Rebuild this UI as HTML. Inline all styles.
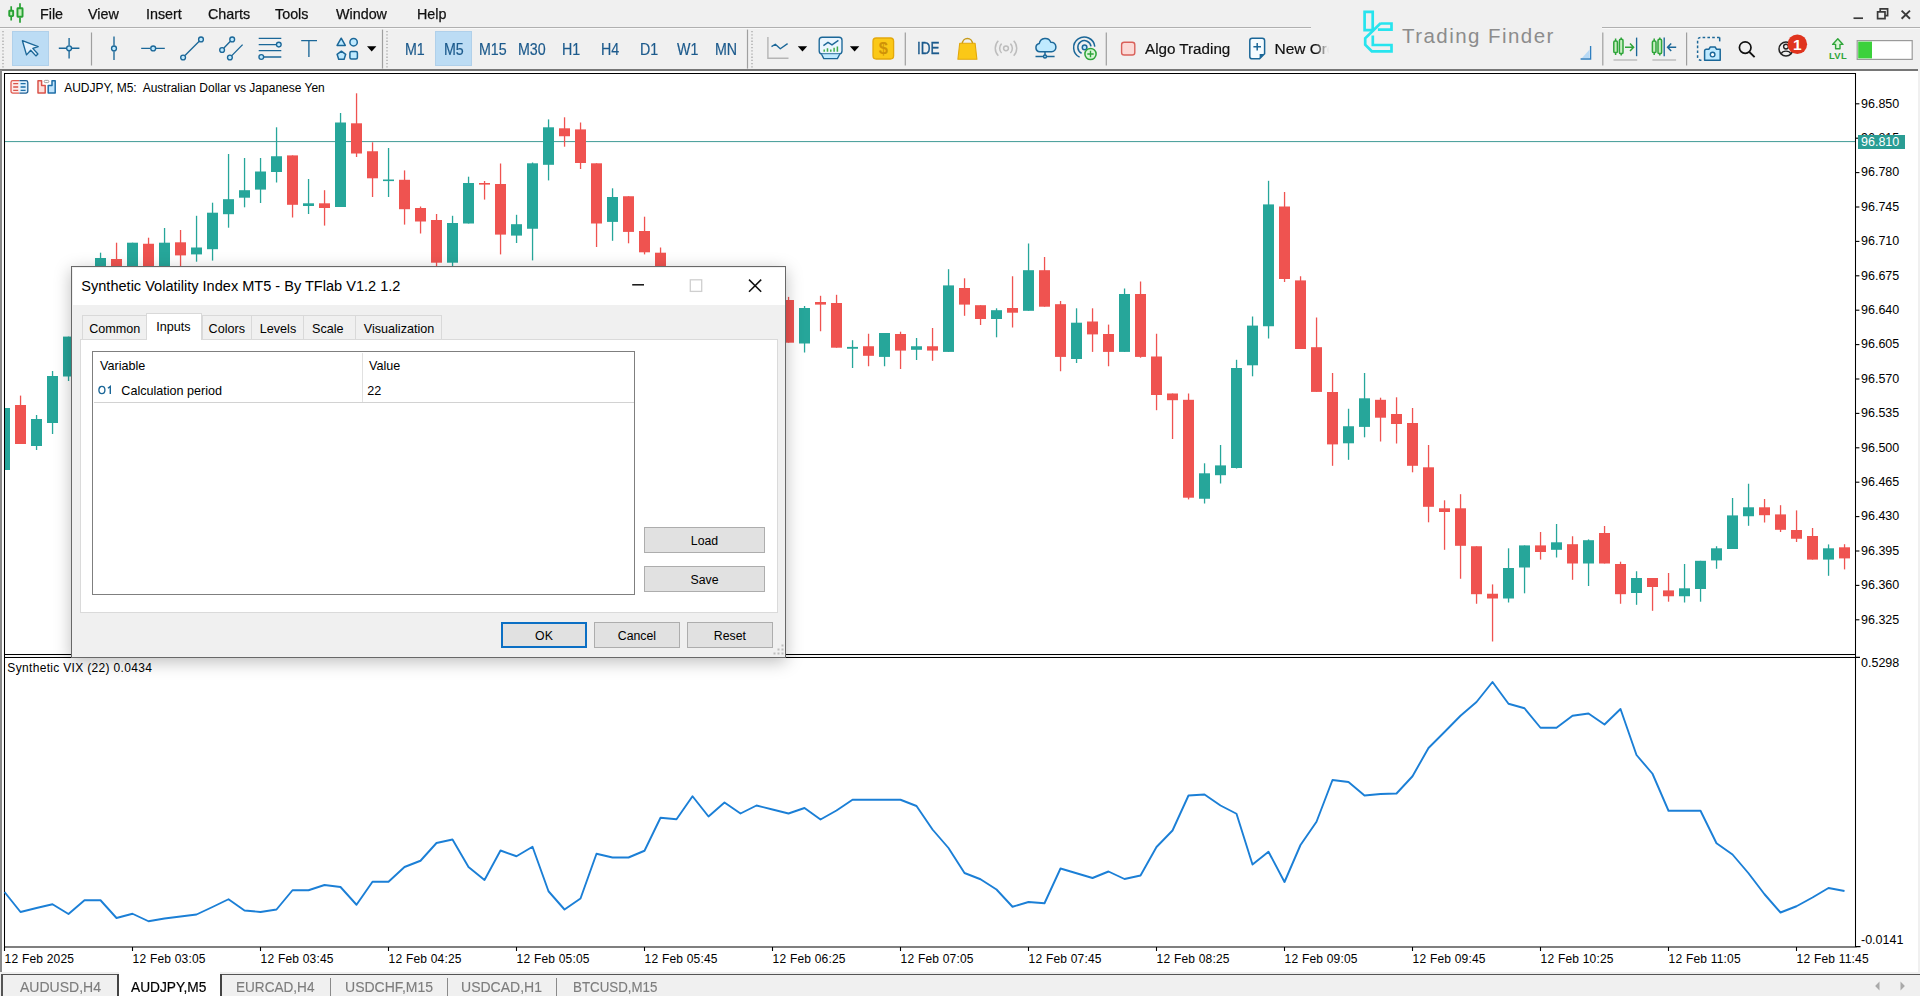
<!DOCTYPE html>
<html><head><meta charset="utf-8"><title>MT5</title>
<style>
*{box-sizing:border-box;margin:0;padding:0}
html,body{width:1920px;height:996px;overflow:hidden;background:#f0f0f0;font-family:"Liberation Sans",sans-serif;color:#000}
.abs{position:absolute}
.t{position:absolute;white-space:pre;line-height:1}
.menu{font-size:15px;top:5.9px;color:#111;-webkit-text-stroke:.25px #111;transform:scaleX(.955);transform-origin:0 0}
.tf{font-size:16px;color:#1c5a8c;-webkit-text-stroke:.2px #1c5a8c;top:42px;transform:scaleX(.89);transform-origin:0 0}
.ax{font-size:12.5px;left:1861px;color:#000}
.tm{font-size:12px;letter-spacing:.2px;top:952.8px;color:#000}
.tab{font-size:15px;top:979px;color:#7d7d7d;-webkit-text-stroke:.15px #7d7d7d;transform:scaleX(.935);transform-origin:0 0}
.dt{font-size:12.6px;color:#000}
.btn{position:absolute;background:#e1e1e1;border:1px solid #adadad;font-size:12.3px;text-align:center;line-height:26.4px;height:26px;overflow:hidden}
</style></head><body>

<div class="abs" style="left:0;top:0;width:1920px;height:27px;background:#f0f0f0"></div>
<div class="t menu" style="left:39.5px">File</div>
<div class="t menu" style="left:88px">View</div>
<div class="t menu" style="left:146px">Insert</div>
<div class="t menu" style="left:208px">Charts</div>
<div class="t menu" style="left:275px">Tools</div>
<div class="t menu" style="left:335.5px">Window</div>
<div class="t menu" style="left:417px">Help</div>
<div class="abs" style="left:0;top:26.5px;width:1311px;height:1.3px;background:#b0b0b0"></div>
<div class="abs" style="left:1602px;top:26.5px;width:318px;height:1.3px;background:#b0b0b0"></div>
<div class="abs" style="left:0;top:27.8px;width:1311px;height:1px;background:#f9f9f9"></div>
<div class="abs" style="left:1602px;top:27.8px;width:318px;height:1px;background:#f9f9f9"></div>
<div class="abs" style="left:12px;top:31px;width:37px;height:34.5px;background:#bcdcf4;border:1px solid #b0d0ea"></div>
<div class="abs" style="left:435px;top:31px;width:37px;height:34.5px;background:#bcdcf4;border:1px solid #b0d0ea"></div>
<div class="t tf" style="left:404.5px">M1</div>
<div class="t tf" style="left:443.5px">M5</div>
<div class="t tf" style="left:478.5px">M15</div>
<div class="t tf" style="left:517.5px">M30</div>
<div class="t tf" style="left:562px">H1</div>
<div class="t tf" style="left:601px">H4</div>
<div class="t tf" style="left:640px">D1</div>
<div class="t tf" style="left:676.5px">W1</div>
<div class="t tf" style="left:715px">MN</div>
<div class="t" style="left:916.8px;top:40.8px;font-size:16px;color:#1c5a8c;-webkit-text-stroke:.35px #1c5a8c;transform:scaleX(.85);transform-origin:0 0">IDE</div>
<div class="t" style="left:1145px;top:40.9px;font-size:15.5px;color:#111;transform:scaleX(.98);transform-origin:0 0;-webkit-text-stroke:.2px #111">Algo Trading</div>
<div class="t" style="left:1274.5px;top:40.9px;font-size:15.5px;color:#111;-webkit-text-stroke:.2px #111;width:54px;overflow:hidden;-webkit-mask-image:linear-gradient(90deg,#000 75%,transparent 100%)">New Order</div>
<div class="t" style="left:1402px;top:26.4px;font-size:20.5px;letter-spacing:1.45px;color:#8c8c8c">Trading Finder</div>
<svg class="abs" style="left:0;top:0" width="1920" height="72" viewBox="0 0 1920 72" fill="none"><g stroke="#27a233" stroke-width="1.9" fill="#c4f0bd"><path d="M11.2 6.2v4.5M11.2 16.8v3.6M20 3.3v5M20 17.4v5.4" stroke-width="1.7"/><rect x="9.25" y="10.8" width="3.9" height="5.3" rx=".5"/><rect x="17.45" y="8.3" width="5.1" height="8.4" rx=".5"/></g><path d="M3 31v37" stroke="#a8a8a8" stroke-width="1.35" stroke-dasharray="1.3 1.9"/><path d="M387 31v37" stroke="#a8a8a8" stroke-width="1.35" stroke-dasharray="1.3 1.9"/><path d="M752 31v37" stroke="#a8a8a8" stroke-width="1.35" stroke-dasharray="1.3 1.9"/><path d="M91.5 32.5v33" stroke="#9f9f9f" stroke-width="1.2"/><path d="M905.3 32.5v33" stroke="#9f9f9f" stroke-width="1.2"/><path d="M1106.3 32.5v33" stroke="#9f9f9f" stroke-width="1.2"/><path d="M1602.8 32.5v33" stroke="#9f9f9f" stroke-width="1.2"/><path d="M1686.6 32.5v33" stroke="#9f9f9f" stroke-width="1.2"/><path d="M382.5 29.6v39" stroke="#9f9f9f" stroke-width="1.2"/><path d="M747.5 29.6v39" stroke="#9f9f9f" stroke-width="1.2"/><path d="M22.4 40.7l4.1 14.2 4.2-4.6 5.2 5.6 2-1.9-5.1-5.6 5.4-1.8z" stroke="#1b6798" stroke-width="1.35" fill="#e4f2fd" stroke-linejoin="round"/><g stroke="#1b6798" stroke-width="1.35"><path d="M58.8 48.2h7.6M71.8 48.2h7.6M69.1 38v7.6M69.1 51v7.6"/><circle cx="69.1" cy="48.3" r="2.45" fill="#bfeaff"/></g><g stroke="#1b6798" stroke-width="1.35"><path d="M114 36.5v9M114 51.2v8.8"/><circle cx="114" cy="48.4" r="2.45" fill="#bfeaff"/></g><g stroke="#1b6798" stroke-width="1.35"><path d="M141.2 48.4h9M156 48.4h8.8"/><circle cx="153.2" cy="48.4" r="2.45" fill="#bfeaff"/></g><g stroke="#1b6798" stroke-width="1.35"><path d="M185 55.6L199.2 41.3"/><circle cx="183.1" cy="57.5" r="2.4" fill="#bfeaff"/><circle cx="201" cy="39.4" r="2.4" fill="#bfeaff"/></g><g stroke="#1b6798" stroke-width="1.35"><path d="M223.9 48L230.4 41.3M231.8 55.6L242.6 44.6"/><circle cx="222.1" cy="50" r="2.4" fill="#bfeaff"/><circle cx="232.2" cy="39.4" r="2.4" fill="#bfeaff"/><circle cx="229.9" cy="57.5" r="2.4" fill="#bfeaff"/></g><g stroke="#1b6798" stroke-width="1.35"><path d="M258.7 38.4h22.6M258.7 44.6h17.3M258.7 50.6h22.6M264 57h17.3"/><circle cx="278.8" cy="44.6" r="2.35" fill="#bfeaff"/><circle cx="261.3" cy="57" r="2.35" fill="#bfeaff"/></g><path d="M301.2 40.6h15.8M308.9 40.6v16.4" stroke="#1b6798" stroke-width="1.35"/><g stroke="#1b6798" stroke-width="1.5" fill="#bfeaff" stroke-linejoin="round"><path d="M341.2 38.2l4.1 7.2h-8.2z"/><circle cx="353.6" cy="42.2" r="3.7"/><path d="M341.4 51.2l4.3 3.1-1.6 5h-5.4l-1.6-5z"/><rect x="349.9" y="51.4" width="7.5" height="7.5" rx="1.5"/></g><path d="M367 46.2h9.4l-4.7 5.2z" fill="#000"/><path d="M797.8 46.2h9.4l-4.7 5.2z" fill="#000"/><path d="M849.9 46.2h9.4l-4.7 5.2z" fill="#000"/><path d="M767.9 37v21.3h20.6" stroke="#b5b5b5" stroke-width="1.4"/><path d="M771.5 46.6l3.8-2.4 5 4.6 7.3-5.2" stroke="#1b6798" stroke-width="1.35" stroke-linejoin="round"/><g stroke="#1b6798" stroke-width="1.35"><rect x="819.2" y="37.2" width="22.8" height="16.8" rx="3" fill="#eaf5fe"/><path d="M821.5 54.2l2.3 4.4h13.6l2.3-4.4" fill="#bfeaff" stroke-linejoin="round"/><path d="M823.4 45.6l4.6-3.2 4 2.4 6.4-4.4" stroke-width="1.4"/></g><path d="M824.2 49.5v2.2M827.5 48.3v3.4M830.8 49.5v2.2M834.1 47.8v3.9M837.4 46.6v5.1" stroke="#3fae49" stroke-width="1.5"/><rect x="873" y="38" width="20.6" height="21" rx="3.2" fill="#fbc817" stroke="#e3a80b" stroke-width="1.3"/><text x="883.3" y="54.4" font-family="Liberation Sans" font-size="16.5" font-weight="bold" fill="#cf9208" text-anchor="middle">$</text><path d="M962.2 44.5c0-8 10.4-8 10.4 0" stroke="#c79b1a" stroke-width="1.5"/><path d="M959.7 43.2h15.4l1.8 16h-19z" fill="#fbc817" stroke="#e3a80b" stroke-width="1.1" stroke-linejoin="round"/><g stroke="#bdbdbd" stroke-width="1.5"><circle cx="1006" cy="48.3" r="2.4"/><path d="M1001.6 43.6a6.6 6.6 0 0 0 0 9.4M1010.4 43.6a6.6 6.6 0 0 1 0 9.4M998.3 40.8a10.8 10.8 0 0 0 0 15M1013.7 40.8a10.8 10.8 0 0 1 0 15"/></g><g stroke="#1b6798" stroke-width="1.5"><path d="M1039.8 51.8a4.2 4.2 0 0 1-.5-8.3 6 6 0 0 1 11.5-1.3 4.8 4.8 0 0 1 .6 9.6z" fill="#bfeaff" stroke-linejoin="round"/><path d="M1045 52v3.2M1035.5 56.6h7.6M1047 56.6h7.6"/><circle cx="1045" cy="56.6" r="1.5" fill="#bfeaff"/></g><g stroke="#1b6798" stroke-width="1.5"><path d="M1079.6 57.2a10.6 10.6 0 1 1 15.2-10.6"/><path d="M1081.6 53.2a6.6 6.6 0 1 1 9.4-6.8"/><circle cx="1084.6" cy="47.4" r="2.3" fill="#bfeaff"/></g><circle cx="1090.5" cy="54" r="5.6" fill="#d9f5d6" stroke="#2fa53a" stroke-width="1.5"/><path d="M1087.3 54h6.4M1090.5 50.8v6.4" stroke="#2fa53a" stroke-width="1.35"/><rect x="1121.6" y="42.2" width="13.2" height="12.8" rx="2.6" fill="#fbdad7" stroke="#d9605a" stroke-width="1.4"/><path d="M1252.2 38.2h10a2.4 2.4 0 0 1 2.4 2.4v13.2l-5 5h-7.4a2.4 2.4 0 0 1-2.4-2.4v-15.8a2.4 2.4 0 0 1 2.4-2.4z" stroke="#1b6798" stroke-width="1.5" fill="#f5fbff"/><path d="M1264.4 54l-4.8 4.8v-4.8z" fill="#1b6798"/><path d="M1253.4 46.7h7.6M1257.2 42.9v7.6" stroke="#1b6798" stroke-width="1.5"/><g stroke="#27e4ee" stroke-width="2.7" stroke-linejoin="miter"><path d="M1364.6 11.9h8.1v18.2h-8.1z"/><path d="M1380.3 23.5h11.2v6.2h-13.6"/><path d="M1380.6 23.3l-15.4 15v6.5l6.6 6.5h19.7v-6.3h-18.7v-9.6"/></g><path d="M1590.6 46v13h-10" stroke="#2f7fc0" stroke-width="1.35"/><path d="M1589.6 49.5v8.5h-7.6z" fill="#b7d9f5"/><g stroke="#2fa53a" stroke-width="1.5" fill="#c9efc2"><path d="M1615.6 38.6v2.4M1615.6 52.6v2.4M1621.2 37.6v1.6M1621.2 53.6v2"/><rect x="1613.8" y="41" width="3.6" height="11.6" rx="1.2"/><rect x="1619.4" y="39.2" width="3.6" height="14.4" rx="1.2"/></g><path d="M1625 47.3h8.4M1630 43.6l3.6 3.7-3.6 3.7" stroke="#2fa53a" stroke-width="1.5"/><path d="M1636.6 37.6v18.6" stroke="#1b6798" stroke-width="1.35"/><path d="M1613.5 60h23.7" stroke="#b5b5b5" stroke-width="1.3"/><g stroke="#2fa53a" stroke-width="1.5" fill="#c9efc2"><path d="M1654.1999999999998 38.6v2.4M1654.1999999999998 52.6v2.4M1659.8 37.6v1.6M1659.8 53.6v2"/><rect x="1652.3999999999999" y="41" width="3.6" height="11.6" rx="1.2"/><rect x="1658.0" y="39.2" width="3.6" height="14.4" rx="1.2"/></g><path d="M1664.2 37.6v18.6" stroke="#1b6798" stroke-width="1.35"/><path d="M1667.6 47.3h8.6M1671.2 43.6l-3.6 3.7 3.6 3.7" stroke="#1b6798" stroke-width="1.5"/><path d="M1652.4 60h23.7" stroke="#b5b5b5" stroke-width="1.3"/><path d="M1719.6 37.4h-19a3 3 0 0 0-3 3v16.8a3 3 0 0 0 3 3h2" stroke="#1b6798" stroke-width="1.5" stroke-dasharray="2.6 2.2"/><path d="M1719.7 37.4v4" stroke="#1b6798" stroke-width="1.5"/><path d="M1704.6 60.3v-9.4a1.6 1.6 0 0 1 1.6-1.6h2.6l1.5-2.3h4.8l1.5 2.3h3.6v11z" fill="#bfeaff" stroke="#1b6798" stroke-width="1.5" stroke-linejoin="round"/><circle cx="1712.6" cy="54.6" r="2.3" stroke="#1b6798" stroke-width="1.4" fill="#fff"/><circle cx="1745.2" cy="47.6" r="5.8" stroke="#111" stroke-width="1.7"/><path d="M1749.4 52l5.2 5.2" stroke="#111" stroke-width="1.8"/><circle cx="1786" cy="49" r="7" stroke="#222" stroke-width="1.5"/><circle cx="1786" cy="46.6" r="2.4" stroke="#222" stroke-width="1.4"/><path d="M1781.2 53.8c1.4-3.6 8.2-3.6 9.6 0" stroke="#222" stroke-width="1.4"/><circle cx="1797.3" cy="44.3" r="9.8" fill="#e0341e"/><text x="1797.3" y="50" font-family="Liberation Sans" font-size="15.5" font-weight="bold" fill="#fff" text-anchor="middle">1</text><path d="M1837.8 38.8l-5.2 5.6h3v4.4h4.4v-4.4h3z" stroke="#2fa53a" stroke-width="1.4" fill="#d9f5d6" stroke-linejoin="round"/><text x="1838" y="59.2" font-family="Liberation Sans" font-size="9.4" font-weight="bold" fill="#2fa53a" text-anchor="middle" letter-spacing=".3">LVL</text><rect x="1857.2" y="40.6" width="55" height="18.8" fill="#fff" stroke="#9a9a9a" stroke-width="1.2"/><rect x="1858.2" y="41.6" width="13.8" height="16.8" fill="#3bd13b"/><g stroke="#3a3a3a" stroke-width="1.7"><path d="M1853.5 18.2h9.5"/><path d="M1877.6 11.8h7.4v6.8h-7.4z"/><path d="M1880.2 11.6v-2.8h7.4v6.8h-2.6"/><path d="M1901.6 10.6l8.4 8.2M1910 10.6l-8.4 8.2" stroke-width="1.9"/></g></svg>
<div class="abs" style="left:0;top:69px;width:1918px;height:1.8px;background:#767676"></div>
<div class="abs" style="left:2px;top:70.8px;width:1916.3px;height:901.4px;background:#fff"></div>
<div class="abs" style="left:0;top:70px;width:1.7px;height:904px;background:#8a8a8a"></div>
<svg class="abs" style="left:0;top:70px" width="1920" height="904" viewBox="0 70 1920 904" shape-rendering="auto"><path d="M5 141.6H1856" stroke="#3f9a95" stroke-width="1"/><rect x="5" y="408" width="5" height="62" fill="#26a69a"/><rect x="19.9" y="395.6" width="1.3" height="48.4" fill="#ef5350"/><rect x="15" y="405" width="11" height="39" fill="#ef5350"/><rect x="35.9" y="415" width="1.3" height="35" fill="#26a69a"/><rect x="31" y="419" width="11" height="27" fill="#26a69a"/><rect x="51.9" y="371" width="1.3" height="63" fill="#26a69a"/><rect x="47" y="376" width="11" height="47" fill="#26a69a"/><rect x="67.9" y="336.6" width="1.3" height="44.4" fill="#26a69a"/><rect x="63" y="336.6" width="11" height="39.9" fill="#26a69a"/><rect x="99.9" y="252.7" width="1.3" height="32.3" fill="#26a69a"/><rect x="95" y="258" width="11" height="27" fill="#26a69a"/><rect x="115.9" y="242.7" width="1.3" height="42.3" fill="#ef5350"/><rect x="111" y="259" width="11" height="26" fill="#ef5350"/><rect x="131.9" y="242.7" width="1.3" height="42.3" fill="#26a69a"/><rect x="127" y="242.7" width="11" height="42.3" fill="#26a69a"/><rect x="147.9" y="237.7" width="1.3" height="47.3" fill="#ef5350"/><rect x="143" y="243.75" width="11" height="41.25" fill="#ef5350"/><rect x="163.9" y="228" width="1.3" height="57" fill="#26a69a"/><rect x="159" y="242.7" width="11" height="42.3" fill="#26a69a"/><rect x="179.9" y="230" width="1.3" height="55" fill="#ef5350"/><rect x="175" y="242.3" width="11" height="13.1" fill="#ef5350"/><rect x="195.9" y="215.8" width="1.3" height="45.9" fill="#26a69a"/><rect x="191" y="247.5" width="11" height="6.9" fill="#26a69a"/><rect x="211.9" y="202.7" width="1.3" height="57.9" fill="#26a69a"/><rect x="207" y="212.7" width="11" height="36.5" fill="#26a69a"/><rect x="227.9" y="154" width="1.3" height="73.7" fill="#26a69a"/><rect x="223" y="199.2" width="11" height="15.0" fill="#26a69a"/><rect x="243.9" y="158" width="1.3" height="49.3" fill="#26a69a"/><rect x="239" y="190.2" width="11" height="7.5" fill="#26a69a"/><rect x="259.9" y="158" width="1.3" height="45" fill="#26a69a"/><rect x="255" y="171.5" width="11" height="18.1" fill="#26a69a"/><rect x="275.9" y="127.3" width="1.3" height="55.2" fill="#26a69a"/><rect x="271" y="156.25" width="11" height="15.75" fill="#26a69a"/><rect x="291.9" y="155.4" width="1.3" height="62.1" fill="#ef5350"/><rect x="287" y="155.4" width="11" height="49.4" fill="#ef5350"/><rect x="307.9" y="179" width="1.3" height="35" fill="#26a69a"/><rect x="303" y="203.3" width="11" height="2.7" fill="#26a69a"/><rect x="323.9" y="190.2" width="1.3" height="35.4" fill="#ef5350"/><rect x="319" y="203.3" width="11" height="4.7" fill="#ef5350"/><rect x="339.9" y="113" width="1.3" height="94" fill="#26a69a"/><rect x="335" y="122.5" width="11" height="84.5" fill="#26a69a"/><rect x="355.9" y="93.3" width="1.3" height="63.7" fill="#ef5350"/><rect x="351" y="123.3" width="11" height="30.2" fill="#ef5350"/><rect x="371.9" y="142.3" width="1.3" height="54.7" fill="#ef5350"/><rect x="367" y="151.25" width="11" height="27.05" fill="#ef5350"/><rect x="387.9" y="148" width="1.3" height="49" fill="#26a69a"/><rect x="383" y="179.5" width="11" height="1.6" fill="#26a69a"/><rect x="403.9" y="170.4" width="1.3" height="54.2" fill="#ef5350"/><rect x="399" y="179.8" width="11" height="29.4" fill="#ef5350"/><rect x="419.9" y="206.5" width="1.3" height="27.0" fill="#ef5350"/><rect x="415" y="208" width="11" height="13.5" fill="#ef5350"/><rect x="435.9" y="214" width="1.3" height="71" fill="#ef5350"/><rect x="431" y="220" width="11" height="42.7" fill="#ef5350"/><rect x="451.9" y="215.8" width="1.3" height="69.2" fill="#26a69a"/><rect x="447" y="223" width="11" height="39.7" fill="#26a69a"/><rect x="467.9" y="176.7" width="1.3" height="46.8" fill="#26a69a"/><rect x="463" y="183" width="11" height="40.5" fill="#26a69a"/><rect x="483.9" y="181" width="1.3" height="18.6" fill="#ef5350"/><rect x="479" y="183" width="11" height="1.6" fill="#ef5350"/><rect x="499.9" y="163.5" width="1.3" height="90.9" fill="#ef5350"/><rect x="495" y="184" width="11" height="50.6" fill="#ef5350"/><rect x="515.9" y="214.8" width="1.3" height="28.2" fill="#26a69a"/><rect x="511" y="224.2" width="11" height="11.4" fill="#26a69a"/><rect x="531.9" y="162.5" width="1.3" height="97.9" fill="#26a69a"/><rect x="527" y="163.3" width="11" height="65.45" fill="#26a69a"/><rect x="547.9" y="119.4" width="1.3" height="61.0" fill="#26a69a"/><rect x="543" y="127.3" width="11" height="37.5" fill="#26a69a"/><rect x="563.9" y="117.3" width="1.3" height="29.4" fill="#ef5350"/><rect x="559" y="128.3" width="11" height="7.95" fill="#ef5350"/><rect x="579.9" y="122.5" width="1.3" height="46.5" fill="#ef5350"/><rect x="575" y="129.4" width="11" height="33.6" fill="#ef5350"/><rect x="595.9" y="163.3" width="1.3" height="83.7" fill="#ef5350"/><rect x="591" y="163.3" width="11" height="60.2" fill="#ef5350"/><rect x="611.9" y="188.3" width="1.3" height="52.5" fill="#26a69a"/><rect x="607" y="197" width="11" height="24.9" fill="#26a69a"/><rect x="627.9" y="196.25" width="1.3" height="47.05" fill="#ef5350"/><rect x="623" y="196.25" width="11" height="35.65" fill="#ef5350"/><rect x="643.9" y="216.7" width="1.3" height="37.7" fill="#ef5350"/><rect x="639" y="231" width="11" height="21.3" fill="#ef5350"/><rect x="659.9" y="247.5" width="1.3" height="37.5" fill="#ef5350"/><rect x="655" y="252.7" width="11" height="32.3" fill="#ef5350"/><rect x="787.9" y="296.9" width="1.3" height="45.8" fill="#ef5350"/><rect x="783" y="300" width="11" height="42.7" fill="#ef5350"/><rect x="803.9" y="306" width="1.3" height="46.5" fill="#26a69a"/><rect x="799" y="308" width="11" height="35.5" fill="#26a69a"/><rect x="819.9" y="295.8" width="1.3" height="35.45" fill="#ef5350"/><rect x="815" y="302" width="11" height="2.6" fill="#ef5350"/><rect x="835.9" y="294.8" width="1.3" height="52.9" fill="#ef5350"/><rect x="831" y="303" width="11" height="44.7" fill="#ef5350"/><rect x="851.9" y="340.2" width="1.3" height="27.8" fill="#26a69a"/><rect x="847" y="346.9" width="11" height="1.85" fill="#26a69a"/><rect x="867.9" y="333.75" width="1.3" height="32.5" fill="#ef5350"/><rect x="863" y="346.25" width="11" height="9.55" fill="#ef5350"/><rect x="883.9" y="333" width="1.3" height="33.25" fill="#26a69a"/><rect x="879" y="333" width="11" height="23.9" fill="#26a69a"/><rect x="899.9" y="331.7" width="1.3" height="37.3" fill="#ef5350"/><rect x="895" y="334" width="11" height="16.6" fill="#ef5350"/><rect x="915.9" y="338" width="1.3" height="22" fill="#26a69a"/><rect x="911" y="346.25" width="11" height="3.55" fill="#26a69a"/><rect x="931.9" y="328" width="1.3" height="32.8" fill="#ef5350"/><rect x="927" y="346.25" width="11" height="4.35" fill="#ef5350"/><rect x="947.9" y="269.2" width="1.3" height="82.7" fill="#26a69a"/><rect x="943" y="285.4" width="11" height="66.5" fill="#26a69a"/><rect x="963.9" y="278.3" width="1.3" height="37.5" fill="#ef5350"/><rect x="959" y="288" width="11" height="16.6" fill="#ef5350"/><rect x="979.9" y="305.2" width="1.3" height="19.8" fill="#ef5350"/><rect x="975" y="305.2" width="11" height="13.8" fill="#ef5350"/><rect x="995.9" y="308.3" width="1.3" height="29.0" fill="#26a69a"/><rect x="991" y="310.2" width="11" height="8.8" fill="#26a69a"/><rect x="1011.9" y="276.25" width="1.3" height="51.25" fill="#ef5350"/><rect x="1007" y="308" width="11" height="4.7" fill="#ef5350"/><rect x="1027.9" y="243.5" width="1.3" height="67.3" fill="#26a69a"/><rect x="1023" y="270.2" width="11" height="40.6" fill="#26a69a"/><rect x="1043.9" y="257" width="1.3" height="49.7" fill="#ef5350"/><rect x="1039" y="270.2" width="11" height="36.5" fill="#ef5350"/><rect x="1059.9" y="301" width="1.3" height="70.25" fill="#ef5350"/><rect x="1055" y="304.2" width="11" height="52.7" fill="#ef5350"/><rect x="1075.9" y="308.3" width="1.3" height="54.7" fill="#26a69a"/><rect x="1071" y="322.7" width="11" height="36.3" fill="#26a69a"/><rect x="1091.9" y="308.3" width="1.3" height="43.6" fill="#ef5350"/><rect x="1087" y="321.5" width="11" height="12.9" fill="#ef5350"/><rect x="1107.9" y="324.6" width="1.3" height="41.65" fill="#ef5350"/><rect x="1103" y="334" width="11" height="17.9" fill="#ef5350"/><rect x="1123.9" y="288.5" width="1.3" height="63.4" fill="#26a69a"/><rect x="1119" y="294" width="11" height="57.9" fill="#26a69a"/><rect x="1139.9" y="281.5" width="1.3" height="76.2" fill="#ef5350"/><rect x="1135" y="294" width="11" height="62.9" fill="#ef5350"/><rect x="1155.9" y="333.75" width="1.3" height="76.45" fill="#ef5350"/><rect x="1151" y="356.5" width="11" height="38.5" fill="#ef5350"/><rect x="1171.9" y="393.5" width="1.3" height="45.5" fill="#ef5350"/><rect x="1167" y="393.5" width="11" height="6.7" fill="#ef5350"/><rect x="1187.9" y="393.5" width="1.3" height="105.9" fill="#ef5350"/><rect x="1183" y="399.8" width="11" height="97.9" fill="#ef5350"/><rect x="1203.9" y="463.3" width="1.3" height="40.2" fill="#26a69a"/><rect x="1199" y="473.3" width="11" height="25.45" fill="#26a69a"/><rect x="1219.9" y="445" width="1.3" height="38.5" fill="#26a69a"/><rect x="1215" y="465.4" width="11" height="9.8" fill="#26a69a"/><rect x="1235.9" y="359.8" width="1.3" height="108.7" fill="#26a69a"/><rect x="1231" y="368" width="11" height="100" fill="#26a69a"/><rect x="1251.9" y="316.5" width="1.3" height="59.8" fill="#26a69a"/><rect x="1247" y="325.6" width="11" height="39.7" fill="#26a69a"/><rect x="1267.9" y="180.8" width="1.3" height="157.7" fill="#26a69a"/><rect x="1263" y="204.4" width="11" height="121.85" fill="#26a69a"/><rect x="1283.9" y="192" width="1.3" height="90" fill="#ef5350"/><rect x="1279" y="206.5" width="11" height="72.5" fill="#ef5350"/><rect x="1299.9" y="276.25" width="1.3" height="72.75" fill="#ef5350"/><rect x="1295" y="280.4" width="11" height="68.6" fill="#ef5350"/><rect x="1315.9" y="317.5" width="1.3" height="74.4" fill="#ef5350"/><rect x="1311" y="347.2" width="11" height="44.7" fill="#ef5350"/><rect x="1331.9" y="373" width="1.3" height="92.8" fill="#ef5350"/><rect x="1327" y="392" width="11" height="52.4" fill="#ef5350"/><rect x="1347.9" y="408.75" width="1.3" height="51.05" fill="#26a69a"/><rect x="1343" y="426.25" width="11" height="17.05" fill="#26a69a"/><rect x="1363.9" y="373" width="1.3" height="64.3" fill="#26a69a"/><rect x="1359" y="398.3" width="11" height="28.6" fill="#26a69a"/><rect x="1379.9" y="397.7" width="1.3" height="43.8" fill="#ef5350"/><rect x="1375" y="399.8" width="11" height="17.9" fill="#ef5350"/><rect x="1395.9" y="397.3" width="1.3" height="46.2" fill="#ef5350"/><rect x="1391" y="414" width="11" height="10" fill="#ef5350"/><rect x="1411.9" y="408" width="1.3" height="64.3" fill="#ef5350"/><rect x="1407" y="423" width="11" height="42.8" fill="#ef5350"/><rect x="1427.9" y="445" width="1.3" height="77.3" fill="#ef5350"/><rect x="1423" y="467.3" width="11" height="39.5" fill="#ef5350"/><rect x="1443.9" y="500.3" width="1.3" height="49.5" fill="#ef5350"/><rect x="1439" y="508.3" width="11" height="3.7" fill="#ef5350"/><rect x="1459.9" y="494.2" width="1.3" height="84.55" fill="#ef5350"/><rect x="1455" y="508.3" width="11" height="37.5" fill="#ef5350"/><rect x="1475.9" y="546.25" width="1.3" height="57.5" fill="#ef5350"/><rect x="1471" y="546.25" width="11" height="47.95" fill="#ef5350"/><rect x="1491.9" y="584.4" width="1.3" height="57.1" fill="#ef5350"/><rect x="1487" y="593.75" width="11" height="4.75" fill="#ef5350"/><rect x="1507.9" y="548.3" width="1.3" height="54.2" fill="#26a69a"/><rect x="1503" y="568" width="11" height="30.5" fill="#26a69a"/><rect x="1523.9" y="545.4" width="1.3" height="47.9" fill="#26a69a"/><rect x="1519" y="545.4" width="11" height="22.1" fill="#26a69a"/><rect x="1539.9" y="532" width="1.3" height="27.6" fill="#ef5350"/><rect x="1535" y="545.4" width="11" height="6.6" fill="#ef5350"/><rect x="1555.9" y="524" width="1.3" height="33.5" fill="#26a69a"/><rect x="1551" y="542.3" width="11" height="7.5" fill="#26a69a"/><rect x="1571.9" y="536.25" width="1.3" height="43.55" fill="#ef5350"/><rect x="1567" y="544.2" width="11" height="19.3" fill="#ef5350"/><rect x="1587.9" y="539.4" width="1.3" height="46.6" fill="#26a69a"/><rect x="1583" y="540.2" width="11" height="23.3" fill="#26a69a"/><rect x="1603.9" y="526" width="1.3" height="37.5" fill="#ef5350"/><rect x="1599" y="533" width="11" height="30.5" fill="#ef5350"/><rect x="1619.9" y="561.7" width="1.3" height="42.05" fill="#ef5350"/><rect x="1615" y="564" width="11" height="30.2" fill="#ef5350"/><rect x="1635.9" y="571.25" width="1.3" height="33.55" fill="#26a69a"/><rect x="1631" y="578" width="11" height="15" fill="#26a69a"/><rect x="1651.9" y="578" width="1.3" height="32.8" fill="#ef5350"/><rect x="1647" y="578" width="11" height="9" fill="#ef5350"/><rect x="1667.9" y="573" width="1.3" height="28.7" fill="#ef5350"/><rect x="1663" y="590.4" width="11" height="5.85" fill="#ef5350"/><rect x="1683.9" y="564" width="1.3" height="38.5" fill="#26a69a"/><rect x="1679" y="588.3" width="11" height="7.95" fill="#26a69a"/><rect x="1699.9" y="560.8" width="1.3" height="40.9" fill="#26a69a"/><rect x="1695" y="560.8" width="11" height="28.2" fill="#26a69a"/><rect x="1715.9" y="546.25" width="1.3" height="22.5" fill="#26a69a"/><rect x="1711" y="548.3" width="11" height="12.1" fill="#26a69a"/><rect x="1731.9" y="498" width="1.3" height="51" fill="#26a69a"/><rect x="1727" y="515.4" width="11" height="33.6" fill="#26a69a"/><rect x="1747.9" y="483.75" width="1.3" height="42.05" fill="#26a69a"/><rect x="1743" y="507.3" width="11" height="8.95" fill="#26a69a"/><rect x="1763.9" y="499" width="1.3" height="23.5" fill="#ef5350"/><rect x="1759" y="507.3" width="11" height="7.9" fill="#ef5350"/><rect x="1779.9" y="505.2" width="1.3" height="26.8" fill="#ef5350"/><rect x="1775" y="514.4" width="11" height="15.4" fill="#ef5350"/><rect x="1795.9" y="510.4" width="1.3" height="31.6" fill="#ef5350"/><rect x="1791" y="530" width="11" height="8.75" fill="#ef5350"/><rect x="1811.9" y="528" width="1.3" height="31.6" fill="#ef5350"/><rect x="1807" y="536" width="11" height="23.6" fill="#ef5350"/><rect x="1827.9" y="544.4" width="1.3" height="31.4" fill="#26a69a"/><rect x="1823" y="548.3" width="11" height="11.3" fill="#26a69a"/><rect x="1843.9" y="544.2" width="1.3" height="25.2" fill="#ef5350"/><rect x="1839" y="547.3" width="11" height="11.1" fill="#ef5350"/><path d="M4.5 73v874.5M4 73.5H1856M1855.5 73v874.5M4 654.5H1856M4 657.4H1856M4 947H1856.5" stroke="#000" stroke-width="1.05"/><rect x="5" y="655.1" width="1850" height="1.7" fill="#f6f6f6"/><path d="M1856 103.8h3.4" stroke="#000" stroke-width="1.1"/><path d="M1856 138.2h3.4" stroke="#000" stroke-width="1.1"/><path d="M1856 172.6h3.4" stroke="#000" stroke-width="1.1"/><path d="M1856 207.0h3.4" stroke="#000" stroke-width="1.1"/><path d="M1856 241.4h3.4" stroke="#000" stroke-width="1.1"/><path d="M1856 275.8h3.4" stroke="#000" stroke-width="1.1"/><path d="M1856 310.2h3.4" stroke="#000" stroke-width="1.1"/><path d="M1856 344.6h3.4" stroke="#000" stroke-width="1.1"/><path d="M1856 379.0h3.4" stroke="#000" stroke-width="1.1"/><path d="M1856 413.4h3.4" stroke="#000" stroke-width="1.1"/><path d="M1856 447.8h3.4" stroke="#000" stroke-width="1.1"/><path d="M1856 482.2h3.4" stroke="#000" stroke-width="1.1"/><path d="M1856 516.6h3.4" stroke="#000" stroke-width="1.1"/><path d="M1856 551.0h3.4" stroke="#000" stroke-width="1.1"/><path d="M1856 585.4h3.4" stroke="#000" stroke-width="1.1"/><path d="M1856 619.8h3.4" stroke="#000" stroke-width="1.1"/><path d="M1856 657.4h4M1856 946.6h4.5" stroke="#000" stroke-width="1.1"/><path d="M4.5 947v4" stroke="#000" stroke-width="1.1"/><path d="M132.5 947v4" stroke="#000" stroke-width="1.1"/><path d="M260.5 947v4" stroke="#000" stroke-width="1.1"/><path d="M388.5 947v4" stroke="#000" stroke-width="1.1"/><path d="M516.5 947v4" stroke="#000" stroke-width="1.1"/><path d="M644.5 947v4" stroke="#000" stroke-width="1.1"/><path d="M772.5 947v4" stroke="#000" stroke-width="1.1"/><path d="M900.5 947v4" stroke="#000" stroke-width="1.1"/><path d="M1028.5 947v4" stroke="#000" stroke-width="1.1"/><path d="M1156.5 947v4" stroke="#000" stroke-width="1.1"/><path d="M1284.5 947v4" stroke="#000" stroke-width="1.1"/><path d="M1412.5 947v4" stroke="#000" stroke-width="1.1"/><path d="M1540.5 947v4" stroke="#000" stroke-width="1.1"/><path d="M1668.5 947v4" stroke="#000" stroke-width="1.1"/><path d="M1796.5 947v4" stroke="#000" stroke-width="1.1"/><polyline points="4.5,892 20.5,912 36.5,908 52.5,904.25 68.5,914 84.5,900.25 100.5,900.25 116.5,918 132.5,913.75 148.5,921.25 164.5,918.5 180.5,916.5 196.5,914.5 212.5,907 228.5,899.25 244.5,910.5 260.5,912 276.5,909.5 292.5,890.25 308.5,890.25 324.5,885 340.5,887 356.5,904.75 372.5,881.75 388.5,881.75 404.5,867 420.5,860.75 436.5,843 452.5,839.5 468.5,867 484.5,880 500.5,850.5 516.5,856.25 532.5,846.75 548.5,891.25 564.5,909.5 580.5,898.5 596.5,853.75 612.5,857.5 628.5,857.5 644.5,850.75 660.5,817.75 676.5,819.25 692.5,796.25 708.5,816.5 724.5,802.5 740.5,813.5 756.5,805.5 772.5,809.5 788.5,813.5 804.5,808 820.5,819.5 836.5,810.5 852.5,799.75 868.5,799.75 884.5,799.75 900.5,799.75 916.5,806 932.5,829.5 948.5,848 964.5,873 980.5,879.25 996.5,889.5 1012.5,906.75 1028.5,902 1044.5,903.25 1060.5,868.5 1076.5,873.25 1092.5,878 1108.5,871.5 1124.5,879 1140.5,875.5 1156.5,847 1172.5,830.5 1188.5,795.5 1204.5,794.5 1220.5,805.5 1236.5,813.75 1252.5,864.5 1268.5,851.75 1284.5,882 1300.5,845 1316.5,821.75 1332.5,780 1348.5,782 1364.5,795.5 1380.5,794 1396.5,793.5 1412.5,776.25 1428.5,748 1444.5,732 1460.5,715.75 1476.5,702 1492.5,682 1508.5,703.75 1524.5,708.25 1540.5,727.75 1556.5,727.75 1572.5,715.75 1588.5,713.5 1604.5,724.5 1620.5,709 1636.5,755 1652.5,773.75 1668.5,810.75 1684.5,810.75 1700.5,810.75 1716.5,843.25 1732.5,854.5 1748.5,873.25 1764.5,894.25 1780.5,912.5 1796.5,906.25 1812.5,897.5 1828.5,888 1844.5,891" fill="none" stroke="#1b7fd6" stroke-width="1.9" stroke-linejoin="round"/><g stroke-width="1.3" fill="none"><path d="M19.4 80.7h-6.6a1.8 1.8 0 0 0-1.8 1.8v8.8a1.8 1.8 0 0 0 1.8 1.8h6.6" stroke="#e05a50" fill="#fdeceb"/><path d="M19.4 80.7h6.6a1.8 1.8 0 0 1 1.8 1.8v8.8a1.8 1.8 0 0 1-1.8 1.8h-6.6" stroke="#1f5f94" fill="#def0fd"/><path d="M13.2 83.6h5M13.2 87h5M13.2 90.4h5" stroke="#d9534a"/><path d="M20.6 83.6h5M20.6 87h5M20.6 90.4h5" stroke="#1f6fa8"/></g><g stroke-width="1.5" stroke-linejoin="round"><path d="M38 80.8h3.6v4.6h3.6v7.6h-7.2z" stroke="#d9534a" fill="#fde0dc"/><path d="M52 80.8h3.2v12.2h-7v-7.6h3.8z" stroke="#1f6fa8" fill="#bfe3fb"/><rect x="44.2" y="80.4" width="4.6" height="2.2" rx="1" stroke="#a0a0a0" stroke-width="1" fill="#fff"/></g></svg>
<div class="t" style="left:64.2px;top:81.5px;font-size:12px;color:#000">AUDJPY, M5:  Australian Dollar vs Japanese Yen</div>
<div class="t" style="left:7.3px;top:661.8px;font-size:12px;letter-spacing:.33px">Synthetic VIX (22) 0.0434</div>
<div class="t ax" style="top:97.5px">96.850</div>
<div class="t ax" style="top:131.9px">96.815</div>
<div class="t ax" style="top:166.3px">96.780</div>
<div class="t ax" style="top:200.7px">96.745</div>
<div class="t ax" style="top:235.1px">96.710</div>
<div class="t ax" style="top:269.5px">96.675</div>
<div class="t ax" style="top:303.9px">96.640</div>
<div class="t ax" style="top:338.3px">96.605</div>
<div class="t ax" style="top:372.7px">96.570</div>
<div class="t ax" style="top:407.1px">96.535</div>
<div class="t ax" style="top:441.5px">96.500</div>
<div class="t ax" style="top:475.9px">96.465</div>
<div class="t ax" style="top:510.3px">96.430</div>
<div class="t ax" style="top:544.7px">96.395</div>
<div class="t ax" style="top:579.1px">96.360</div>
<div class="t ax" style="top:613.5px">96.325</div>
<div class="abs" style="left:1858px;top:135px;width:47px;height:13.6px;background:#2a9d94"></div>
<div class="t ax" style="top:135.6px;color:#fff">96.810</div>
<div class="t ax" style="top:657px">0.5298</div>
<div class="t ax" style="top:933.8px">-0.0141</div>
<div class="t tm" style="left:4.6px">12 Feb 2025</div>
<div class="t tm" style="left:132.6px">12 Feb 03:05</div>
<div class="t tm" style="left:260.6px">12 Feb 03:45</div>
<div class="t tm" style="left:388.6px">12 Feb 04:25</div>
<div class="t tm" style="left:516.6px">12 Feb 05:05</div>
<div class="t tm" style="left:644.6px">12 Feb 05:45</div>
<div class="t tm" style="left:772.6px">12 Feb 06:25</div>
<div class="t tm" style="left:900.6px">12 Feb 07:05</div>
<div class="t tm" style="left:1028.6px">12 Feb 07:45</div>
<div class="t tm" style="left:1156.6px">12 Feb 08:25</div>
<div class="t tm" style="left:1284.6px">12 Feb 09:05</div>
<div class="t tm" style="left:1412.6px">12 Feb 09:45</div>
<div class="t tm" style="left:1540.6px">12 Feb 10:25</div>
<div class="t tm" style="left:1668.6px">12 Feb 11:05</div>
<div class="t tm" style="left:1796.6px">12 Feb 11:45</div>
<div class="abs" style="left:0;top:972.2px;width:1920px;height:24px;background:#f0f0f0"></div>
<div class="abs" style="left:1px;top:973.6px;width:117px;height:1.5px;background:#555"></div>
<div class="abs" style="left:220px;top:973.6px;width:1700px;height:1.5px;background:#555"></div>
<div class="abs" style="left:1px;top:974px;width:1.5px;height:22px;background:#555"></div>
<div class="abs" style="left:117px;top:974px;width:1.5px;height:22px;background:#444"></div>
<div class="abs" style="left:118.5px;top:972px;width:101.5px;height:24px;background:#fff"></div>
<div class="abs" style="left:220px;top:974px;width:1.6px;height:22px;background:#444"></div>
<div class="abs" style="left:330px;top:978px;width:1.3px;height:18px;background:#8a8a8a"></div>
<div class="abs" style="left:447px;top:978px;width:1.3px;height:18px;background:#8a8a8a"></div>
<div class="abs" style="left:556px;top:978px;width:1.3px;height:18px;background:#8a8a8a"></div>
<div class="t tab" style="left:19.5px;">AUDUSD,H4</div>
<div class="t tab" style="left:131px;color:#000;transform:scaleX(.915);-webkit-text-stroke:.2px #000">AUDJPY,M5</div>
<div class="t tab" style="left:236px;transform:scaleX(0.905)">EURCAD,H4</div>
<div class="t tab" style="left:345px;">USDCHF,M15</div>
<div class="t tab" style="left:461px;">USDCAD,H1</div>
<div class="t tab" style="left:572.6px;transform:scaleX(0.888)">BTCUSD,M15</div>
<svg class="abs" style="left:1860px;top:976px" width="60" height="20"><path d="M19.5 5.5v9l-4.4-4.5zM40.5 5.5v9l4.4-4.5z" fill="#a9a9a9"/></svg>
<div class="abs" style="left:71px;top:266px;width:715px;height:391.5px;background:#f0f0f0;border:1px solid #686868;box-shadow:0 4px 16px rgba(0,0,0,.26)"></div>
<div class="abs" style="left:72.5px;top:267.5px;width:712.5px;height:37.5px;background:#fff"></div>
<div class="t" style="left:81.3px;top:279.3px;font-size:14.55px;color:#000">Synthetic Volatility Index MT5 - By TFlab V1.2 1.2</div>
<svg class="abs" style="left:620px;top:270px" width="160" height="32" fill="none"><path d="M12.2 14.8h11.8" stroke="#111" stroke-width="1.5"/><rect x="70.3" y="9.8" width="11.4" height="11.6" stroke="#cfcfcf" stroke-width="1.3"/><path d="M129 9.6l12.2 12.2M141.2 9.6L129 21.8" stroke="#111" stroke-width="1.5"/></svg>
<div class="abs" style="left:79.6px;top:339px;width:698px;height:273.5px;background:#fff;border:1px solid #dadada"></div>
<div class="abs" style="left:81.5px;top:315.4px;width:65.8px;height:24px;background:#f0f0f0;border:1px solid #d9d9d9;border-bottom:none"></div>
<div class="t dt" style="left:89.2px;top:322.7px">Common</div>
<div class="abs" style="left:201.7px;top:315.4px;width:50.6px;height:24px;background:#f0f0f0;border:1px solid #d9d9d9;border-bottom:none"></div>
<div class="t dt" style="left:208.6px;top:322.7px">Colors</div>
<div class="abs" style="left:251.3px;top:315.4px;width:53.0px;height:24px;background:#f0f0f0;border:1px solid #d9d9d9;border-bottom:none"></div>
<div class="t dt" style="left:259.8px;top:322.7px">Levels</div>
<div class="abs" style="left:303.3px;top:315.4px;width:53.1px;height:24px;background:#f0f0f0;border:1px solid #d9d9d9;border-bottom:none"></div>
<div class="t dt" style="left:312px;top:322.7px">Scale</div>
<div class="abs" style="left:355.4px;top:315.4px;width:86.4px;height:24px;background:#f0f0f0;border:1px solid #d9d9d9;border-bottom:none"></div>
<div class="t dt" style="left:363.8px;top:322.7px">Visualization</div>
<div class="abs" style="left:146.3px;top:313.2px;width:56px;height:27px;background:#fff;border:1px solid #d9d9d9;border-bottom:none"></div>
<div class="t dt" style="left:156.2px;top:320.9px">Inputs</div>
<div class="abs" style="left:92px;top:351.2px;width:543.4px;height:244px;background:#fff;border:1.2px solid #7f7f7f"></div>
<div class="abs" style="left:361.8px;top:353px;width:1.2px;height:49.5px;background:#e1e1e1"></div>
<div class="abs" style="left:94px;top:402px;width:540px;height:1.3px;background:#d2d2d2"></div>
<div class="t dt" style="left:100px;top:360.3px">Variable</div>
<div class="t dt" style="left:369px;top:360.3px">Value</div>
<div class="t dt" style="left:121.3px;top:385.1px">Calculation period</div>
<div class="t dt" style="left:367.2px;top:385.1px">22</div>
<svg class="abs" style="left:96px;top:382px" width="20" height="16" fill="none"><ellipse cx="5.9" cy="8" rx="3" ry="3.6" stroke="#1b6798" stroke-width="1.35"/><path d="M11.9 6.2l2.4-1.8v7.6" stroke="#1b6798" stroke-width="1.4"/></svg>
<div class="btn" style="left:644.2px;top:527px;width:120.6px">Load</div>
<div class="btn" style="left:644.2px;top:566px;width:120.6px">Save</div>
<div class="btn" style="left:501.2px;top:621.6px;width:85.6px;border:2px solid #0b6fc4;line-height:24.4px">OK</div>
<div class="btn" style="left:594px;top:621.6px;width:85.8px">Cancel</div>
<div class="btn" style="left:687px;top:621.6px;width:85.8px">Reset</div>
<svg class="abs" style="left:772px;top:643px" width="14" height="14"><g fill="#bdbdbd"><rect x="9.5" y="1.5" width="2" height="2"/><rect x="5.5" y="5.5" width="2" height="2"/><rect x="9.5" y="5.5" width="2" height="2"/><rect x="1.5" y="9.5" width="2" height="2"/><rect x="5.5" y="9.5" width="2" height="2"/><rect x="9.5" y="9.5" width="2" height="2"/></g></svg>
</body></html>
